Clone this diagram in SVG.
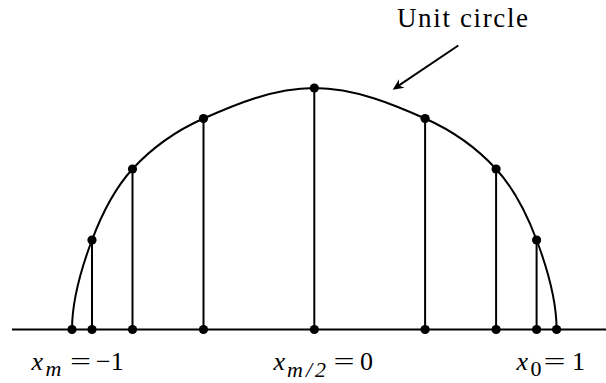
<svg xmlns="http://www.w3.org/2000/svg" width="606" height="383" viewBox="0 0 606 383">
  <style>
    .ln { fill: none; stroke: #000; stroke-width: 2; }
    .dot { fill: #000; stroke: none; }
    .t { font-family: "Liberation Serif", "DejaVu Serif", serif; fill: #000; }
    .it { font-style: italic; }
  </style>
  <defs>
    <marker id="head" viewBox="-12 -6 14 12" refX="-4" refY="0" markerWidth="14" markerHeight="12" markerUnits="userSpaceOnUse" orient="auto">
      <path d="M0,0 L-11,-5 L-7.5,0 L-11,5 Z" fill="#000"/>
    </marker>
  </defs>
  <rect width="606" height="383" fill="#fff"/>

  <g id="axis">
    <line class="ln" x1="12" y1="329.5" x2="606" y2="329.5"/>
  </g>

  <g id="unit-circle">
    <path class="ln" d="M72,329.5 C72,299.5 81.9,266.75 92,240 C102.1,213.25 113.9,189.25 132.5,169 C151.1,148.75 173.2,132 203.5,118.5 C233.8,105 273.4,88 314.3,88 C355.2,88 394.8,105 425.1,118.5 C455.4,132 477.5,148.75 496.1,169 C514.7,189.25 526.5,213.25 536.6,240 C546.7,266.75 556.6,299.5 556.6,329.5"/>
  </g>

  <g id="stems">
    <line class="ln" x1="92" y1="240" x2="92" y2="329.5"/>
    <line class="ln" x1="132.5" y1="169" x2="132.5" y2="329.5"/>
    <line class="ln" x1="203.5" y1="118.5" x2="203.5" y2="329.5"/>
    <line class="ln" x1="314.3" y1="88" x2="314.3" y2="329.5"/>
    <line class="ln" x1="425.1" y1="118.5" x2="425.1" y2="329.5"/>
    <line class="ln" x1="496.1" y1="169" x2="496.1" y2="329.5"/>
    <line class="ln" x1="536.6" y1="240" x2="536.6" y2="329.5"/>
  </g>

  <g id="dots">
    <circle class="dot" cx="92" cy="240" r="4.6"/>
    <circle class="dot" cx="132.5" cy="169" r="4.6"/>
    <circle class="dot" cx="203.5" cy="118.5" r="4.6"/>
    <circle class="dot" cx="314.3" cy="88" r="4.6"/>
    <circle class="dot" cx="425.1" cy="118.5" r="4.6"/>
    <circle class="dot" cx="496.1" cy="169" r="4.6"/>
    <circle class="dot" cx="536.6" cy="240" r="4.6"/>
    <circle class="dot" cx="72" cy="329.5" r="4.6"/>
    <circle class="dot" cx="92" cy="329.5" r="4.6"/>
    <circle class="dot" cx="132.5" cy="329.5" r="4.6"/>
    <circle class="dot" cx="203.5" cy="329.5" r="4.6"/>
    <circle class="dot" cx="314.3" cy="329.5" r="4.6"/>
    <circle class="dot" cx="425.1" cy="329.5" r="4.6"/>
    <circle class="dot" cx="496.1" cy="329.5" r="4.6"/>
    <circle class="dot" cx="536.6" cy="329.5" r="4.6"/>
    <circle class="dot" cx="556.6" cy="329.5" r="4.6"/>
  </g>

  <g id="connectors">
    <line class="ln" x1="458.3" y1="45.5" x2="396" y2="87.4" marker-end="url(#head)"/>
  </g>

  <g id="label-unit-circle">
    <text class="t" x="397" y="27" font-size="27" textLength="131" lengthAdjust="spacing">Unit circle</text>
  </g>

  <g id="label-xm">
    <text class="t it" x="31.5" y="370" font-size="26">x</text>
    <text class="t it" x="45.5" y="375.5" font-size="22">m</text>
    <text class="t" x="70" y="370" font-size="26" textLength="21" lengthAdjust="spacingAndGlyphs">=</text>
    <text class="t" x="96" y="370" font-size="26">−1</text>
  </g>

  <g id="label-xm2">
    <text class="t it" x="273.5" y="370" font-size="26">x</text>
    <text class="t it" x="287" y="376.5" font-size="22" textLength="39" lengthAdjust="spacing">m/2</text>
    <text class="t" x="333.5" y="370" font-size="26" textLength="21" lengthAdjust="spacingAndGlyphs">=</text>
    <text class="t" x="360" y="370" font-size="26">0</text>
  </g>

  <g id="label-x0">
    <text class="t it" x="516.5" y="370" font-size="26">x</text>
    <text class="t" x="530.5" y="375.5" font-size="22">0</text>
    <text class="t" x="543.5" y="370" font-size="26" textLength="22" lengthAdjust="spacingAndGlyphs">=</text>
    <text class="t" x="572" y="370" font-size="26">1</text>
  </g>
</svg>
